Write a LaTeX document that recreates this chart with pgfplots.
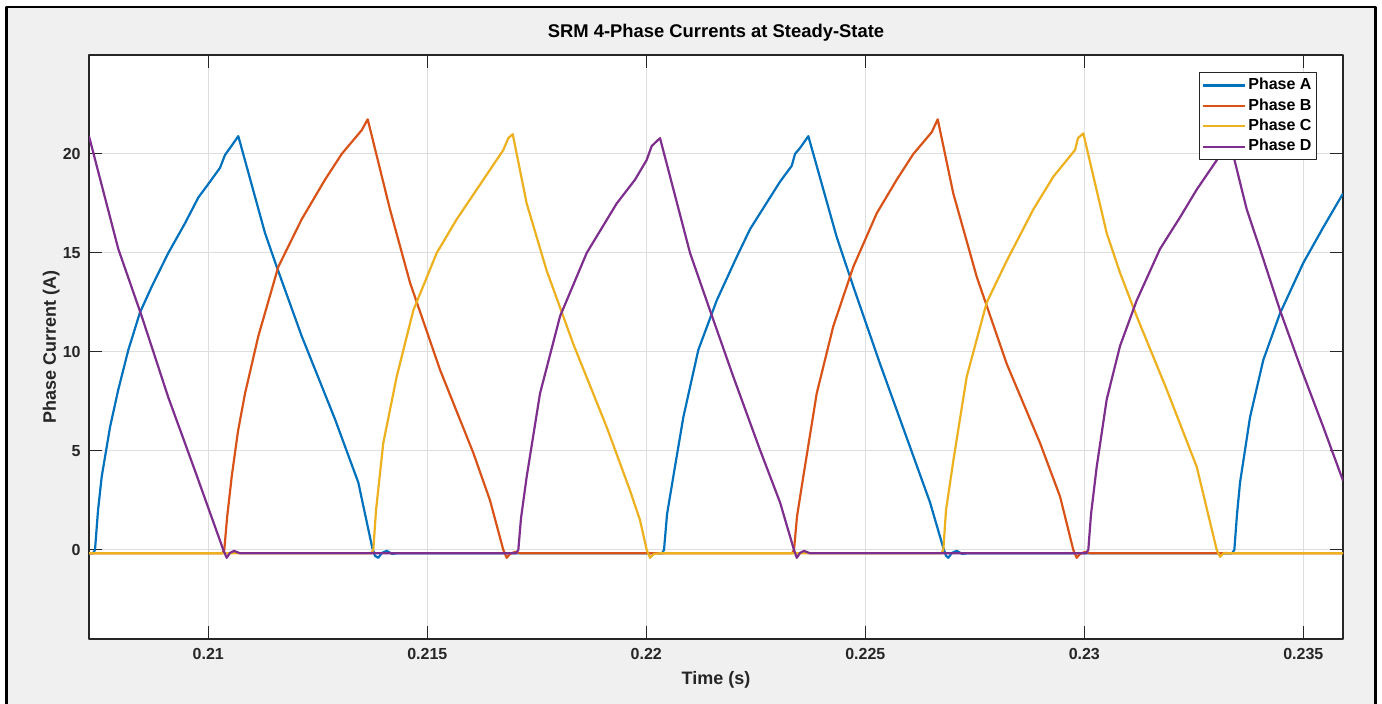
\documentclass[border=0pt]{standalone}
\usepackage{fontspec}
\setmainfont{Liberation Sans}
\usepackage{pgfplots}
\pgfplotsset{compat=1.18}
\definecolor{cA}{HTML}{0072BD}
\definecolor{cB}{HTML}{D95319}
\definecolor{cC}{HTML}{EDB120}
\definecolor{cD}{HTML}{7E2F8E}
\definecolor{axgray}{HTML}{262626}
\definecolor{gridgray}{HTML}{DEDEDE}
\definecolor{figbg}{HTML}{F0F0F0}
\begin{document}
\begin{tikzpicture}[line join=round]
\useasboundingbox (0,0) rectangle (691pt,352pt);
\fill[white] (0,0) rectangle (691pt,352pt);
\fill[figbg] (3.35pt,0pt) rectangle (687.75pt,348.5pt);
\draw[black, line width=1.4pt] (3.35pt,-1pt) -- (3.35pt,348.5pt) -- (687.75pt,348.5pt) -- (687.75pt,-1pt);
\begin{axis}[
  at={(44.5pt,32.5pt)}, anchor=south west,
  scale only axis, width=627pt, height=292pt,
  xmin=0.207276, xmax=0.235906, ymin=-4.5, ymax=25,
  axis background/.style={fill=white},
  xtick={0.21,0.215,0.22,0.225,0.23,0.235},
  xticklabels={0.21,0.215,0.22,0.225,0.23,0.235},
  ytick={0,5,10,15,20}, yticklabels={0,5,10,15,20},
  scaled x ticks=false, scaled y ticks=false,
  /pgf/number format/assume math mode=true,
  tick align=inside, major tick length=6.3pt,
  tick style={draw=axgray, line width=0.5pt},
  axis line style={draw=axgray, line width=0.6pt},
  grid=major, grid style={draw=gridgray, line width=0.5pt},
  tick label style={font=\fontsize{8}{9.6}\selectfont\bfseries, text=axgray},
  xticklabel style={anchor=base, yshift=-10.5pt},
  yticklabel style={anchor=east, inner xsep=0pt, xshift=-4pt},
  title={SRM 4-Phase Currents at Steady-State},
  title style={font=\fontsize{9.2}{11}\selectfont\bfseries, text=black, at={(axis description cs:0.5,1)}, anchor=base, inner sep=0pt, yshift=2.5pt},
  xlabel={Time (s)},
  xlabel style={font=\fontsize{9}{11}\selectfont\bfseries, text=axgray, at={(axis description cs:0.5,0)}, anchor=base, inner sep=0pt, yshift=-23pt},
  ylabel={Phase Current (A)},
  ylabel style={font=\fontsize{9}{11}\selectfont\bfseries, text=axgray, at={(axis description cs:-0.02632,0.5)}, anchor=base, inner sep=0pt},
  legend style={at={(axis description cs:1,1)}, anchor=north east, xshift=-13pt, yshift=-8.65pt,
    draw=axgray, line width=0.5pt, fill=white,
    font=\fontsize{8}{9.6}\selectfont\bfseries,
    inner xsep=1.5pt, inner ysep=2pt, row sep=1.5pt,
    nodes={inner xsep=1pt, inner ysep=0.5pt, text height=6pt, text depth=1.7pt},
    cells={anchor=west}},
  legend image code/.code={\draw[#1, line width=1.1pt] (0pt,0pt) -- (21pt,0pt);},
  every axis plot/.append style={line width=1.1pt, mark=none},
]
\addplot[cA] coordinates {
(0.207276,-0.17) (0.207368,-0.17) (0.207413,0) (0.207482,2.0) (0.207566,3.7)
(0.207756,6.2) (0.207945,8.1) (0.208174,10.1) (0.208441,12.0) (0.208708,13.3)
(0.209087,15.0) (0.209468,16.5) (0.209772,17.8) (0.210039,18.6) (0.210267,19.3)
(0.210381,19.95) (0.210495,20.3) (0.210685,20.9) (0.211295,16.0) (0.211562,14.3)
(0.212132,10.8) (0.212893,6.6) (0.213425,3.4) (0.213744,0.1) (0.213806,-0.3)
(0.213881,-0.4) (0.213966,-0.15) (0.214073,-0.05) (0.214194,-0.2) (0.214331,-0.17)
(0.220358,-0.17) (0.220404,0) (0.220473,1.8) (0.220616,3.7) (0.220845,6.7)
(0.221187,10.1) (0.221607,12.6) (0.222064,14.8) (0.222368,16.2) (0.222824,17.8)
(0.223053,18.6) (0.223320,19.4) (0.223395,20.0) (0.223509,20.3) (0.223699,20.9)
(0.224347,15.8) (0.224726,13.3) (0.225336,9.4) (0.226021,5.2) (0.226477,2.4)
(0.226781,0.1) (0.226842,-0.3) (0.226895,-0.4) (0.226979,-0.15) (0.227087,-0.05)
(0.227208,-0.2) (0.227345,-0.17) (0.233372,-0.17) (0.233425,0) (0.233486,1.8)
(0.233555,3.4) (0.233783,6.7) (0.234087,9.6) (0.234468,11.95) (0.235000,14.5)
(0.235457,16.3) (0.235906,18.0)
};
\addlegendentry{Phase A}
\addplot[cB] coordinates {
(0.207276,-0.17) (0.210313,-0.17) (0.210365,0) (0.210427,1.6) (0.210534,3.7)
(0.210678,6.0) (0.210838,7.9) (0.211142,10.8) (0.211598,14.3) (0.212132,16.7)
(0.212664,18.7) (0.213046,20.0) (0.213235,20.5) (0.213502,21.2) (0.213639,21.75)
(0.214148,17.2) (0.214605,13.5) (0.215290,9.1) (0.216050,4.9) (0.216432,2.5)
(0.216735,0) (0.216813,-0.4) (0.216888,-0.2) (0.217002,-0.1) (0.217116,-0.17)
(0.223327,-0.17) (0.223372,0) (0.223441,1.7) (0.223584,3.7) (0.223890,7.9)
(0.224269,11.3) (0.224726,14.3) (0.225260,17.0) (0.225717,18.7) (0.226096,20.0)
(0.226249,20.4) (0.226516,21.1) (0.226653,21.75) (0.227009,18.0) (0.227543,13.8)
(0.228228,9.4) (0.228989,5.4) (0.229445,2.7) (0.229749,0) (0.229826,-0.4)
(0.229902,-0.2) (0.230016,-0.1) (0.230130,-0.17) (0.235906,-0.17)
};
\addlegendentry{Phase B}
\addplot[cC] coordinates {
(0.207276,-0.17) (0.213715,-0.17) (0.213767,0) (0.213829,2.0) (0.213995,5.4)
(0.214301,8.75) (0.214680,12.1) (0.215215,15.0) (0.215671,16.7) (0.216279,18.7)
(0.216735,20.2) (0.216849,20.8) (0.216950,21.0) (0.217269,17.5) (0.217726,14.1)
(0.218333,10.4) (0.219096,6.2) (0.219628,3.0) (0.219856,1.5) (0.220009,0)
(0.220085,-0.4) (0.220176,-0.2) (0.220313,-0.17) (0.226728,-0.17) (0.226781,0)
(0.226842,2.0) (0.227009,4.5) (0.227315,8.75) (0.227772,12.5) (0.228228,14.6)
(0.228836,17.2) (0.229292,18.85) (0.229788,20.2) (0.229856,20.8) (0.229977,21.04)
(0.230511,16.0) (0.230815,14.0) (0.231196,11.8) (0.231881,8.1) (0.232566,4.2)
(0.233023,0) (0.233098,-0.35) (0.233189,-0.15) (0.233326,-0.17) (0.235906,-0.17)
};
\addlegendentry{Phase C}
\addplot[cD] coordinates {
(0.207276,20.9) (0.207945,15.2) (0.208480,11.8) (0.209087,7.7) (0.209696,4.0)
(0.210343,0) (0.210420,-0.4) (0.210495,-0.15) (0.210587,-0.05) (0.210724,-0.17)
(0.217025,-0.17) (0.217078,0) (0.217139,1.6) (0.217269,3.7) (0.217573,7.9)
(0.218030,11.8) (0.218639,15.0) (0.219324,17.5) (0.219742,18.7) (0.220009,19.7)
(0.220123,20.4) (0.220313,20.8) (0.220998,15.0) (0.221454,12.1) (0.221986,8.75)
(0.222596,5.05) (0.223053,2.4) (0.223372,0) (0.223434,-0.4) (0.223509,-0.15)
(0.223600,-0.05) (0.223737,-0.17) (0.230039,-0.17) (0.230091,0) (0.230153,1.8)
(0.230283,4.2) (0.230511,7.6) (0.230815,10.3) (0.231196,12.6) (0.231728,15.2)
(0.232185,16.8) (0.232566,18.2) (0.233059,19.8) (0.233144,20.4) (0.233304,20.8)
(0.233708,17.2) (0.234011,15.2) (0.234468,12.1) (0.234925,9.3) (0.235457,6.2)
(0.235906,3.5)
};
\addlegendentry{Phase D}
\end{axis}
\end{tikzpicture}
\end{document}
